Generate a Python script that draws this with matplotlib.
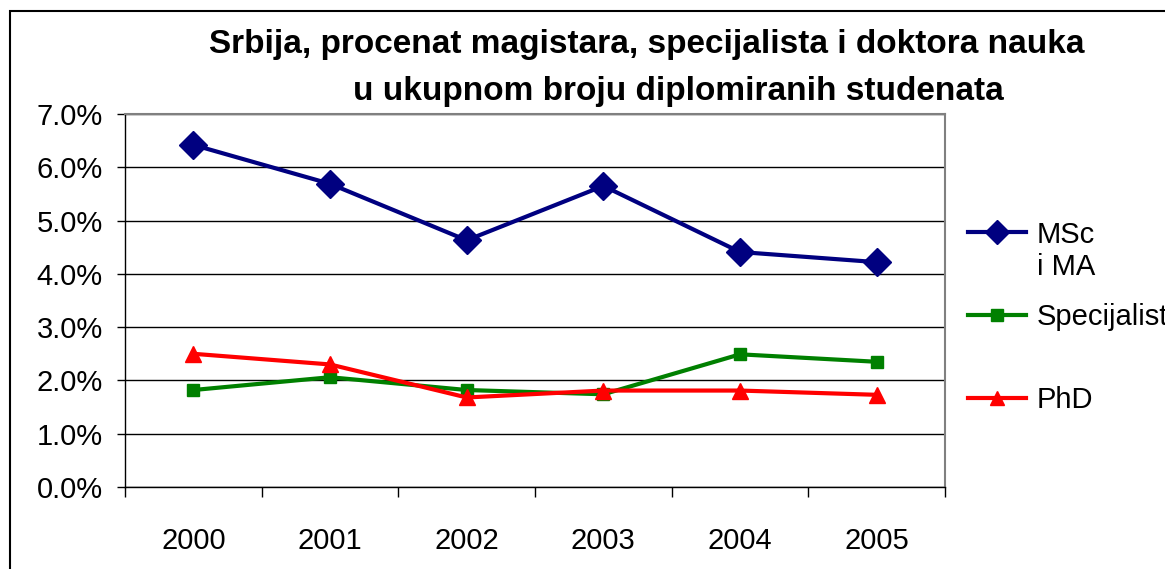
import matplotlib.pyplot as plt
from matplotlib.lines import Line2D
from matplotlib.patches import Rectangle
from matplotlib.ticker import FuncFormatter, MultipleLocator

plt.rcParams['font.family'] = ['Liberation Sans', 'DejaVu Sans']

years = ['2000', '2001', '2002', '2003', '2004', '2005']
msc_ma = [6.42, 5.69, 4.63, 5.65, 4.41, 4.22]
specijalist = [1.82, 2.06, 1.82, 1.74, 2.49, 2.35]
phd = [2.50, 2.30, 1.68, 1.81, 1.81, 1.73]

fig = plt.figure(figsize=(11.65, 5.69), dpi=100)
ax = fig.add_axes([125 / 1165, 1 - 487 / 569, 820 / 1165, 373 / 569])

x = list(range(len(years)))
ax.plot(x, msc_ma, color='#000080', lw=3, marker='D', ms=14, zorder=3)
ax.plot(x, specijalist, color='#008000', lw=3, marker='s', ms=9, zorder=3)
ax.plot(x, phd, color='#ff0000', lw=3, marker='^', ms=11, zorder=4)

ax.set_xlim(-0.5, 5.5)
ax.set_ylim(0, 7)
ax.yaxis.set_major_locator(MultipleLocator(1))
ax.yaxis.set_major_formatter(FuncFormatter(lambda v, p: f'{v:.1f}%'))
ax.yaxis.grid(True, color='black', lw=1)
ax.set_axisbelow(True)

ax.set_xticks(x)
ax.set_xticklabels(years)
ax.set_xticks([i - 0.5 for i in range(len(years) + 1)], minor=True)
ax.tick_params(axis='x', which='major', length=0, pad=29, labelsize=21)
ax.tick_params(axis='x', which='minor', length=7, width=1, direction='out')
ax.tick_params(axis='y', length=6, width=1, direction='out', pad=10, labelsize=21)

for side in ['top', 'right']:
    ax.spines[side].set_color('#808080')
    ax.spines[side].set_linewidth(1.5)
for side in ['left', 'bottom']:
    ax.spines[side].set_color('black')
    ax.spines[side].set_linewidth(1)

fig.text(647 / 1165, 1 - 45 / 569, 'Srbija, procenat magistara, specijalista i doktora nauka',
         ha='center', va='center', fontsize=24, fontweight='bold')
fig.text(678 / 1165, 1 - 91 / 569, 'u ukupnom broju diplomiranih studenata',
         ha='center', va='center', fontsize=24, fontweight='bold')

# legend drawn from the series styles
handles = [
    Line2D([], [], color='#000080', lw=3, marker='D', ms=12),
    Line2D([], [], color='#008000', lw=3, marker='s', ms=8),
    Line2D([], [], color='#ff0000', lw=3, marker='^', ms=10),
]
leg = fig.legend(handles, ['MSc', 'Specijalist', 'PhD'], loc='upper left',
                 bbox_to_anchor=(956 / 1165, 1 - 209 / 569), frameon=False,
                 fontsize=21, handlelength=2.0, handletextpad=0.35,
                 labelspacing=1.87, borderaxespad=0)
fig.text(1037 / 1165, 1 - 267 / 569, 'i MA', ha='left', va='center', fontsize=21)

fig.patches.append(Rectangle((10 / 1165, -0.2), 2, 1.2 - 11 / 569,
                             transform=fig.transFigure, fill=False,
                             edgecolor='black', lw=1.5))

fig.savefig('out.png', dpi=100)
